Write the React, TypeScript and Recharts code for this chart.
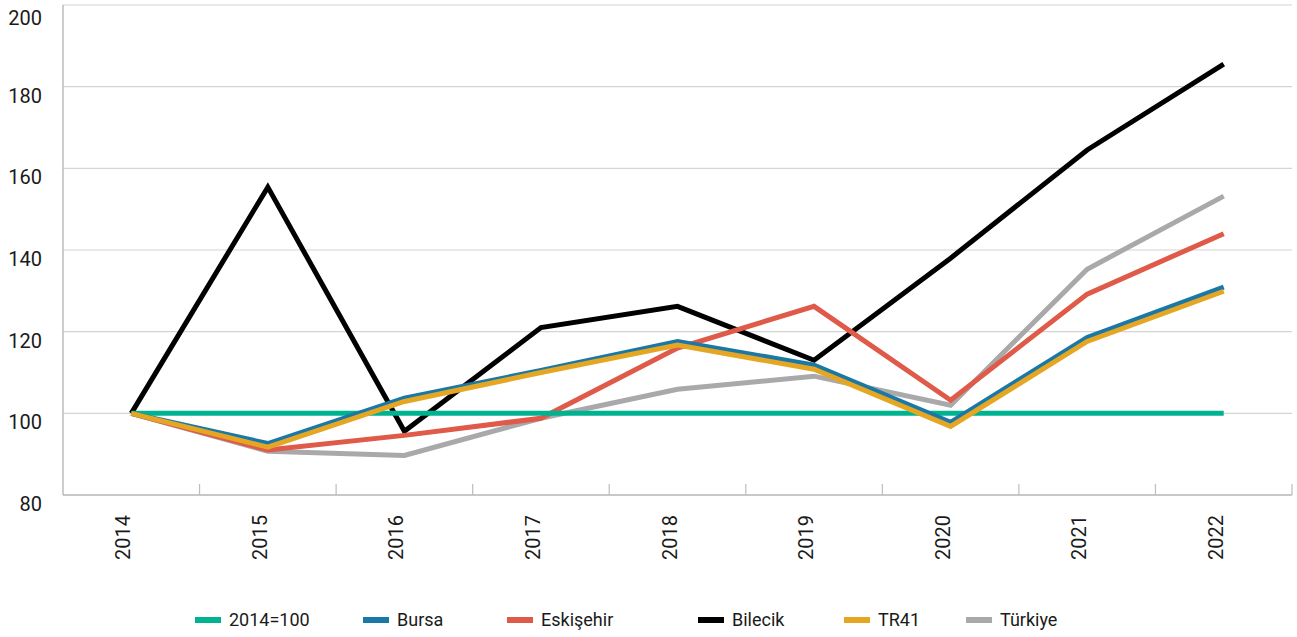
import React from "react";
import { LineChart, Line, XAxis, YAxis, CartesianGrid } from "recharts";

const years = ["2014", "2015", "2016", "2017", "2018", "2019", "2020", "2021", "2022"];
const base = [100, 100, 100, 100, 100, 100, 100, 100, 100];
const bursa = [100, 92.6, 103.7, 110.5, 117.6, 111.8, 97.8, 118.6, 130.9];
const eskisehir = [100, 91, 94.6, 98.8, 116, 126.2, 103.2, 129.2, 144];
const bilecik = [100, 155.4, 95.6, 121, 126.2, 113, 138, 164.5, 185.5];
const tr41 = [100, 91.7, 102.9, 110, 116.7, 110.8, 96.8, 117.6, 129.9];
const turkiye = [100, 90.7, 89.7, 98.8, 105.9, 109.1, 102, 135.3, 153.2];
const yTicks = [80, 100, 120, 140, 160, 180, 200];

const SERIES = [
  { key: "base", name: "2014=100", color: "#00b390", values: base },
  { key: "bursa", name: "Bursa", color: "#1a78a6", values: bursa },
  { key: "eskisehir", name: "Eskişehir", color: "#df5a48", values: eskisehir },
  { key: "bilecik", name: "Bilecik", color: "#000000", values: bilecik },
  { key: "tr41", name: "TR41", color: "#e5a624", values: tr41 },
  { key: "turkiye", name: "Türkiye", color: "#a9a9ac", values: turkiye },
];

// draw order (bottom to top), legend keeps the original order
const DRAW_ORDER = ["turkiye", "bilecik", "eskisehir", "base", "bursa", "tr41"];
const LEGEND_WIDTHS = [168, 144, 191, 146, 122, 110];

const data = years.map((year, i) => {
  const row: Record<string, string | number> = { year };
  SERIES.forEach((s) => (row[s.key] = s.values[i]));
  return row;
});

const W = 1297;
const H = 637;
const LEFT = 63;
const RIGHT = 5;
const BAND = (W - LEFT - RIGHT) / years.length;
const FONT = "Roboto, 'Open Sans', sans-serif";
const AXIS = "#bdbdbd";

function XTick(props: any) {
  const { x, y, payload } = props;
  return (
    <g>
      <line x1={x + BAND / 2} x2={x + BAND / 2} y1={y - 11} y2={y} stroke={AXIS} strokeWidth={1.2} />
      <text
        x={0}
        y={0}
        transform={`translate(${x - 1},${y + 20}) rotate(-90)`}
        textAnchor="end"
        fontSize={20}
        fill="#1a1a1a"
        fontFamily={FONT}
      >
        {payload.value}
      </text>
    </g>
  );
}

function YTick(props: any) {
  const { x, y, payload } = props;
  return (
    <text x={x} y={y + 16} textAnchor="end" fontSize={20} fill="#1a1a1a" fontFamily={FONT}>
      {payload.value}
    </text>
  );
}

function ChartLegend() {
  return (
    <div
      style={{
        position: "absolute",
        left: 195,
        top: 607,
        display: "flex",
        fontFamily: FONT,
        fontSize: 18,
        lineHeight: "26px",
        color: "#1a1a1a",
      }}
    >
      {SERIES.map((s, i) => (
        <div key={s.key} style={{ display: "flex", alignItems: "center", width: LEGEND_WIDTHS[i] }}>
          <span style={{ display: "inline-block", width: 26, height: 6, background: s.color, marginRight: 8 }} />
          <span>{s.name}</span>
        </div>
      ))}
    </div>
  );
}

export default function App() {
  return (
    <div style={{ position: "absolute", left: 0, top: 0, width: W, height: H, background: "#fff" }}>
      <LineChart width={W} height={H} data={data} margin={{ top: 5, right: RIGHT, bottom: 82, left: 0 }}>
        <CartesianGrid vertical={false} stroke="#d4d4d4" strokeWidth={1.2} />
        <XAxis
          dataKey="year"
          scale="band"
          tick={<XTick />}
          tickLine={false}
          tickSize={0}
          tickMargin={0}
          interval={0}
          stroke={AXIS}
          strokeWidth={1.5}
          height={60}
        />
        <YAxis
          type="number"
          domain={[80, 200]}
          ticks={yTicks}
          width={LEFT}
          tick={<YTick />}
          tickLine={false}
          tickSize={0}
          tickMargin={21}
          stroke={AXIS}
          strokeWidth={1.5}
        />
        {DRAW_ORDER.map((k) => {
          const s = SERIES.find((x) => x.key === k)!;
          return (
            <Line
              key={s.key}
              type="linear"
              dataKey={s.key}
              name={s.name}
              stroke={s.color}
              strokeWidth={5}
              dot={false}
              activeDot={false}
              isAnimationActive={false}
            />
          );
        })}
      </LineChart>
      <ChartLegend />
    </div>
  );
}
